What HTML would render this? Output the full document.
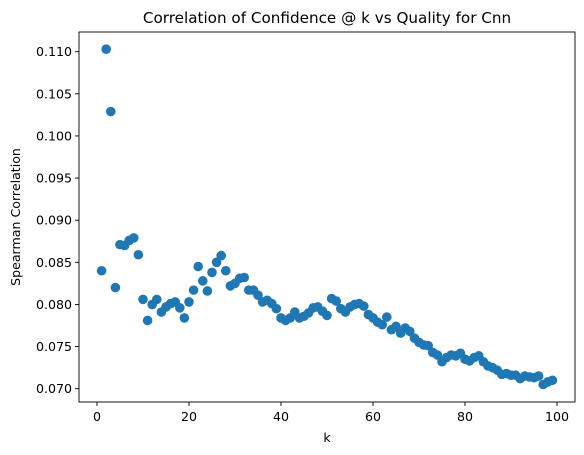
<!DOCTYPE html>
<html><head><meta charset="utf-8"><style>
html,body{margin:0;padding:0;background:#fff;}
svg{display:block;font-family:"DejaVu Sans","Liberation Sans",sans-serif;}
</style></head><body>
<svg id="chart" width="584" height="455" viewBox="0 0 584 455">
<text x="327" y="23" font-size="15.2" text-anchor="middle" fill="#000">Correlation of Confidence @ k vs Quality for Cnn</text>
<g id="marks"></g>
<g id="axes"></g>
<text x="327" y="442" font-size="12.6" text-anchor="middle">k</text>
<text transform="translate(20,217) rotate(-90)" font-size="12.6" text-anchor="middle">Spearman Correlation</text>
</svg>
<script>
const kValues = [];
for (let i = 1; i <= 99; i++) kValues.push(i);
const correlations = [0.0840,0.1103,0.1029,0.0820,0.0871,0.0870,0.0876,0.0879,0.0859,0.0806,
0.0781,0.0800,0.0806,0.0791,0.0797,0.0801,0.0803,0.0796,0.0784,0.0803,
0.0817,0.0845,0.0828,0.0816,0.0838,0.0850,0.0858,0.0840,0.0822,0.0825,
0.0831,0.0832,0.0817,0.0817,0.0811,0.0803,0.0805,0.0801,0.0795,0.0784,
0.0781,0.0784,0.0791,0.0784,0.0786,0.0790,0.0796,0.0797,0.0792,0.0787,
0.0807,0.0804,0.0795,0.0791,0.0797,0.0800,0.0801,0.0798,0.0788,0.0784,
0.0779,0.0776,0.0785,0.0770,0.0774,0.0766,0.0772,0.0768,0.0760,0.0755,
0.0752,0.0751,0.0743,0.0740,0.0732,0.0737,0.0740,0.0739,0.0742,0.0735,
0.0733,0.0737,0.0739,0.0732,0.0727,0.0725,0.0722,0.0717,0.0718,0.0716,
0.0716,0.0712,0.0715,0.0714,0.0713,0.0715,0.0705,0.0708,0.0710];
const xTicks = [0,20,40,60,80,100];
const yTicks = [0.070,0.075,0.080,0.085,0.090,0.095,0.100,0.105,0.110];
const yTickLabels = ["0.070","0.075","0.080","0.085","0.090","0.095","0.100","0.105","0.110"];

const L=79,R=575,T=32,B=402;
function xs(v){return 97+(v-0)*4.6;}
function ys(v){return 388.7-(v-0.070)*8425;}
const NS="http://www.w3.org/2000/svg";
const marks=document.getElementById('marks');
kValues.forEach((k,i)=>{
  const c=document.createElementNS(NS,'circle');
  c.setAttribute('cx',xs(k));c.setAttribute('cy',ys(correlations[i]));
  c.setAttribute('r',4.8);c.setAttribute('fill','#1f77b4');
  
  
  marks.appendChild(c);
});
const axes=document.getElementById('axes');
const frame=document.createElementNS(NS,'rect');
frame.setAttribute('x',L);frame.setAttribute('y',T);frame.setAttribute('width',R-L);frame.setAttribute('height',B-T);
frame.setAttribute('fill','none');frame.setAttribute('stroke','#000');frame.setAttribute('stroke-width','0.9');


axes.appendChild(frame);
xTicks.forEach(t=>{
  const x=xs(t);
  const l=document.createElementNS(NS,'line');
  l.setAttribute('x1',x);l.setAttribute('x2',x);l.setAttribute('y1',B);l.setAttribute('y2',B+4);l.setAttribute('stroke','#000');l.setAttribute('stroke-width','0.9');
  
  
  axes.appendChild(l);
  const tx=document.createElementNS(NS,'text');
  tx.setAttribute('x',x);tx.setAttribute('y',B+19);tx.setAttribute('font-size','12.6');tx.setAttribute('text-anchor','middle');
  tx.textContent=t;
  
  
  axes.appendChild(tx);
});
yTicks.forEach((t,i)=>{
  const y=ys(t);
  const l=document.createElementNS(NS,'line');
  l.setAttribute('x1',L-4);l.setAttribute('x2',L);l.setAttribute('y1',y);l.setAttribute('y2',y);l.setAttribute('stroke','#000');l.setAttribute('stroke-width','0.9');
  
  
  axes.appendChild(l);
  const tx=document.createElementNS(NS,'text');
  tx.setAttribute('x',L-7);tx.setAttribute('y',y+4.5);tx.setAttribute('font-size','12.6');tx.setAttribute('text-anchor','end');
  tx.textContent=yTickLabels[i];
  
  
  axes.appendChild(tx);
});
</script>
</body></html>
